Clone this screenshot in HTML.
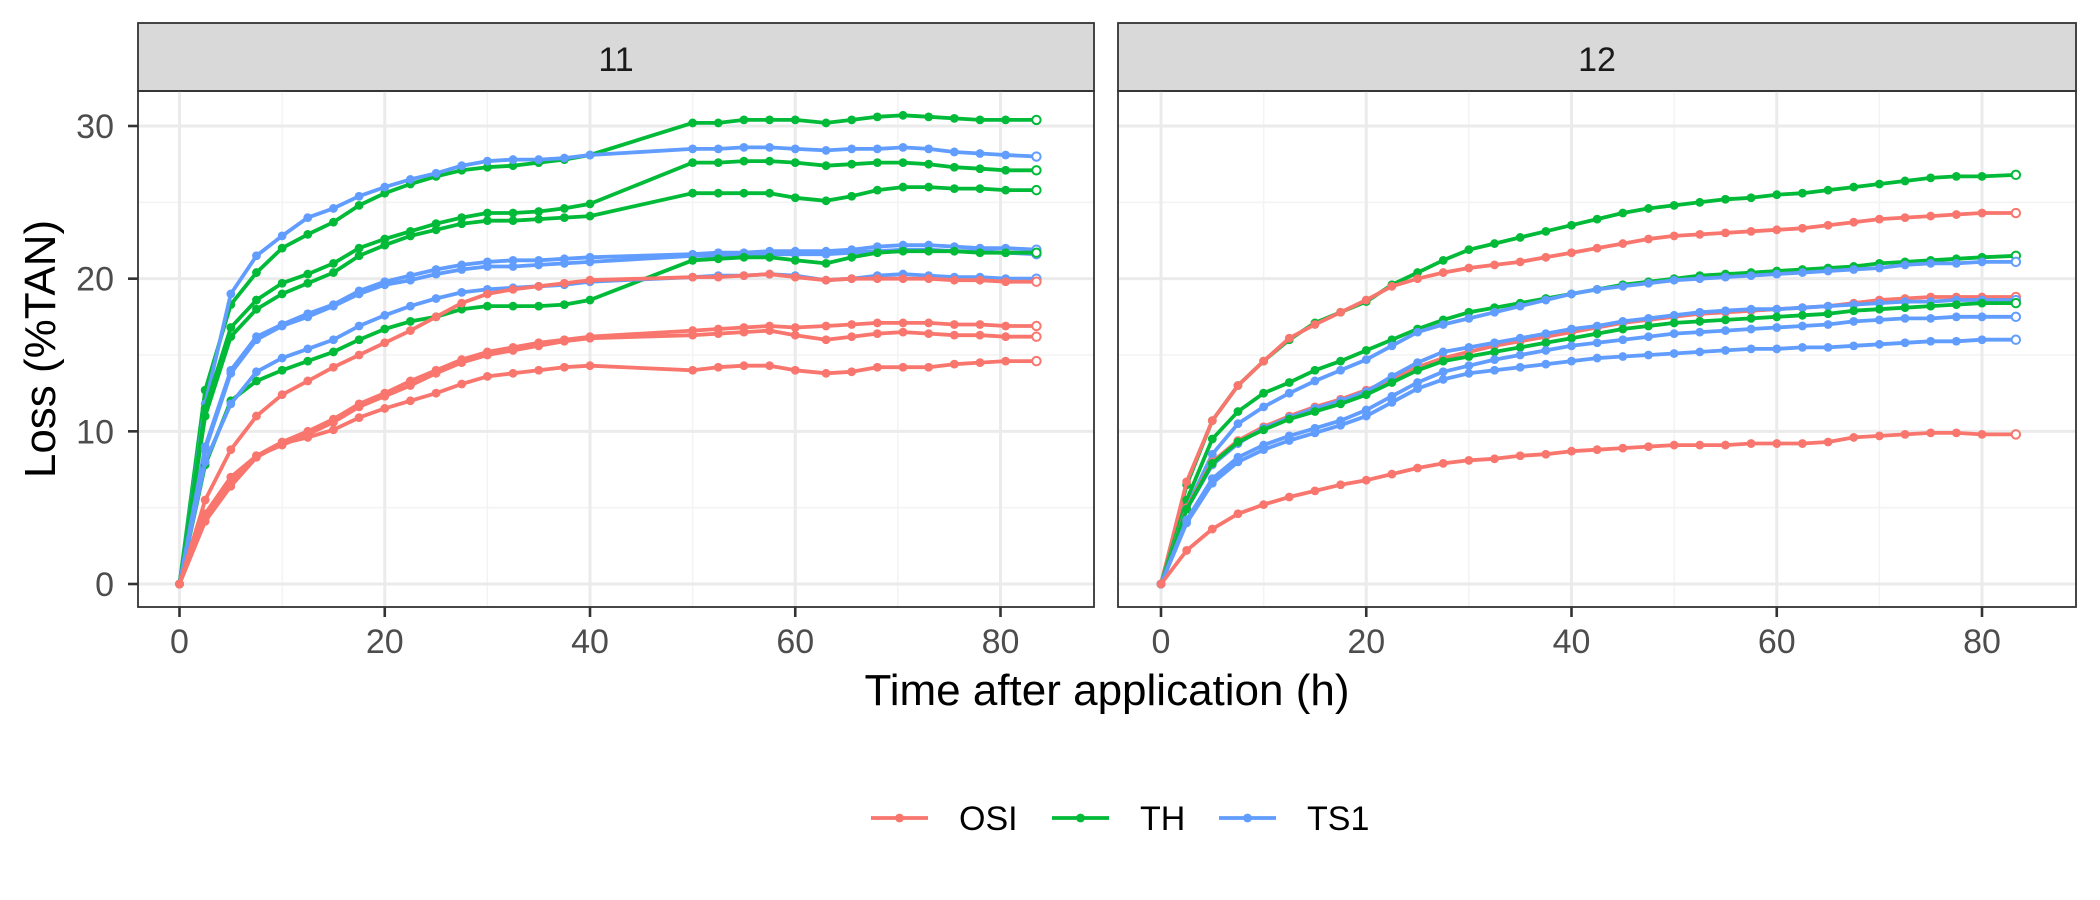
<!DOCTYPE html>
<html><head><meta charset="utf-8"><style>
body{margin:0;background:#fff;}
svg{display:block;font-family:"Liberation Sans",sans-serif;}
</style></head><body>
<svg id="chart" width="2100" height="900" viewBox="0 0 2100 900" xmlns="http://www.w3.org/2000/svg"></svg>
<script>
const panels = ["11","12"];
const times11 = [0,2.5,5,7.5,10,12.5,15,17.5,20,22.5,25,27.5,30,32.5,35,37.5,40,50,52.5,55,57.5,60,63,65.5,68,70.5,73,75.5,78,80.5,83.5];
const times12 = [0,2.5,5,7.5,10,12.5,15,17.5,20,22.5,25,27.5,30,32.5,35,37.5,40,42.5,45,47.5,50,52.5,55,57.5,60,62.5,65,67.5,70,72.5,75,77.5,80,83.3];
const xTicks = [0,20,40,60,80];
const yTicks = [0,10,20,30];
const treatments = ["OSI","TH","TS1"];
const colors = {OSI:"#F8766D",TH:"#00BA38",TS1:"#619CFF"};
const p11 = [
 ["TH",[0,12.7,18.3,20.4,22.0,22.9,23.7,24.8,25.6,26.2,26.7,27.1,27.3,27.4,27.6,27.8,28.1,30.2,30.2,30.4,30.4,30.4,30.2,30.4,30.6,30.7,30.6,30.5,30.4,30.4,30.4]],
 ["TS1",[0,11.8,19.0,21.5,22.8,24.0,24.6,25.4,26.0,26.5,26.9,27.4,27.7,27.8,27.8,27.9,28.1,28.5,28.5,28.6,28.6,28.5,28.4,28.5,28.5,28.6,28.5,28.3,28.2,28.1,28.0]],
 ["TH",[0,11.5,16.8,18.6,19.7,20.3,21.0,22.0,22.6,23.1,23.6,24.0,24.3,24.3,24.4,24.6,24.9,27.6,27.6,27.7,27.7,27.6,27.4,27.5,27.6,27.6,27.5,27.3,27.2,27.1,27.1]],
 ["TH",[0,11.0,16.2,18.0,19.0,19.7,20.4,21.5,22.2,22.8,23.2,23.6,23.8,23.8,23.9,24.0,24.1,25.6,25.6,25.6,25.6,25.3,25.1,25.4,25.8,26.0,26.0,25.9,25.9,25.8,25.8]],
 ["TS1",[0,9.0,14.0,16.2,17.0,17.7,18.3,19.2,19.8,20.2,20.6,20.9,21.1,21.2,21.2,21.3,21.4,21.6,21.7,21.7,21.8,21.8,21.8,21.9,22.1,22.2,22.2,22.1,22.0,22.0,21.9]],
 ["TS1",[0,8.8,13.8,16.0,16.9,17.5,18.2,19.0,19.6,19.9,20.3,20.6,20.8,20.8,20.9,21.0,21.1,21.5,21.5,21.5,21.6,21.6,21.6,21.7,21.8,21.9,21.9,21.8,21.8,21.7,21.6]],
 ["TH",[0,7.8,12.0,13.3,14.0,14.6,15.2,16.0,16.7,17.2,17.5,18.0,18.2,18.2,18.2,18.3,18.6,21.2,21.3,21.4,21.4,21.2,21.0,21.4,21.7,21.8,21.8,21.8,21.7,21.7,21.7]],
 ["TS1",[0,8.0,11.8,13.9,14.8,15.4,16.0,16.9,17.6,18.2,18.7,19.1,19.3,19.4,19.5,19.6,19.8,20.1,20.2,20.2,20.3,20.2,19.9,20.0,20.2,20.3,20.2,20.1,20.1,20.0,20.0]],
 ["OSI",[0,5.5,8.8,11.0,12.4,13.3,14.2,15.0,15.8,16.6,17.5,18.4,19.0,19.3,19.5,19.7,19.9,20.1,20.1,20.2,20.3,20.1,19.9,20.0,20.0,20.0,20.0,19.9,19.9,19.8,19.8]],
 ["OSI",[0,4.6,7.0,8.4,9.3,10.0,10.8,11.8,12.5,13.3,14.0,14.7,15.2,15.5,15.8,16.0,16.2,16.6,16.7,16.8,16.9,16.8,16.9,17.0,17.1,17.1,17.1,17.0,17.0,16.9,16.9]],
 ["OSI",[0,4.3,6.6,8.4,9.1,9.8,10.6,11.6,12.3,13.0,13.8,14.5,15.0,15.3,15.6,15.9,16.1,16.3,16.4,16.5,16.6,16.3,16.0,16.2,16.4,16.5,16.4,16.3,16.3,16.2,16.2]],
 ["OSI",[0,4.1,6.4,8.3,9.2,9.6,10.1,10.9,11.5,12.0,12.5,13.1,13.6,13.8,14.0,14.2,14.3,14.0,14.2,14.3,14.3,14.0,13.8,13.9,14.2,14.2,14.2,14.4,14.5,14.6,14.6]]
];
const p12 = [
 ["TH",[0,6.5,10.7,13.0,14.6,16.0,17.1,17.8,18.5,19.6,20.4,21.2,21.9,22.3,22.7,23.1,23.5,23.9,24.3,24.6,24.8,25.0,25.2,25.3,25.5,25.6,25.8,26.0,26.2,26.4,26.6,26.7,26.7,26.8]],
 ["OSI",[0,6.7,10.7,13.0,14.6,16.1,17.0,17.8,18.6,19.5,20.0,20.4,20.7,20.9,21.1,21.4,21.7,22.0,22.3,22.6,22.8,22.9,23.0,23.1,23.2,23.3,23.5,23.7,23.9,24.0,24.1,24.2,24.3,24.3]],
 ["TH",[0,5.5,9.5,11.3,12.5,13.2,14.0,14.6,15.3,16.0,16.7,17.3,17.8,18.1,18.4,18.7,19.0,19.3,19.6,19.8,20.0,20.2,20.3,20.4,20.5,20.6,20.7,20.8,21.0,21.1,21.2,21.3,21.4,21.5]],
 ["TS1",[0,5.0,8.5,10.5,11.6,12.5,13.3,14.0,14.7,15.6,16.5,17.0,17.4,17.8,18.2,18.6,19.0,19.3,19.5,19.7,19.9,20.0,20.1,20.2,20.3,20.4,20.5,20.6,20.7,20.9,21.0,21.0,21.1,21.1]],
 ["OSI",[0,5.0,8.0,9.4,10.3,11.0,11.6,12.1,12.7,13.4,14.2,14.8,15.2,15.6,15.9,16.2,16.5,16.8,17.1,17.3,17.5,17.7,17.8,17.9,18.0,18.1,18.2,18.4,18.6,18.7,18.8,18.8,18.8,18.8]],
 ["TS1",[0,4.9,7.8,9.2,10.2,10.9,11.5,12.0,12.6,13.6,14.5,15.2,15.5,15.8,16.1,16.4,16.7,16.9,17.2,17.4,17.6,17.8,17.9,18.0,18.0,18.1,18.2,18.3,18.4,18.5,18.5,18.6,18.6,18.6]],
 ["TH",[0,4.9,7.9,9.3,10.1,10.8,11.3,11.8,12.4,13.2,14.0,14.6,14.9,15.2,15.5,15.8,16.1,16.4,16.7,16.9,17.1,17.2,17.3,17.4,17.5,17.6,17.7,17.9,18.0,18.1,18.2,18.3,18.4,18.4]],
 ["TS1",[0,4.2,6.9,8.3,9.1,9.7,10.2,10.7,11.4,12.3,13.2,13.9,14.3,14.7,15.0,15.3,15.6,15.8,16.0,16.2,16.4,16.5,16.6,16.7,16.8,16.9,17.0,17.2,17.3,17.4,17.4,17.5,17.5,17.5]],
 ["TS1",[0,4.0,6.6,8.0,8.8,9.4,9.9,10.4,11.0,11.9,12.8,13.4,13.8,14.0,14.2,14.4,14.6,14.8,14.9,15.0,15.1,15.2,15.3,15.4,15.4,15.5,15.5,15.6,15.7,15.8,15.9,15.9,16.0,16.0]],
 ["OSI",[0,2.2,3.6,4.6,5.2,5.7,6.1,6.5,6.8,7.2,7.6,7.9,8.1,8.2,8.4,8.5,8.7,8.8,8.9,9.0,9.1,9.1,9.1,9.2,9.2,9.2,9.3,9.6,9.7,9.8,9.9,9.9,9.8,9.8]]
];

const NS="http://www.w3.org/2000/svg";
const svg=document.getElementById("chart");
function mk(tag,attrs,parent){const e=document.createElementNS(NS,tag);for(const k in attrs)e.setAttribute(k,attrs[k]);(parent||svg).appendChild(e);return e;}
const panelX=[[138,1094],[1118,2076]];
const pTop=91,pBottom=607,stripTop=23;
function yScale(v){return 584+(126-584)*v/30;}
function xScaleFor(i){const x0=i===0?179.5:1161, x80=i===0?1000.5:1982;return v=>x0+(x80-x0)*v/80;}
const datasets=[[times11,p11],[times12,p12]];

panels.forEach((lab,i)=>{
  const L=panelX[i][0], R=panelX[i][1]; const xs=xScaleFor(i);
  const g=mk("g",{});
  
  
  const strip=mk("rect",{x:L,y:stripTop,width:R-L,height:pTop-stripTop,fill:"#D9D9D9",stroke:"#333","stroke-width":1.8},g);
  
  
  const st=mk("text",{x:(L+R)/2,y:71,"text-anchor":"middle","font-size":34,fill:"#1A1A1A"},g);
  st.textContent=lab;
  
  
  [5,15,25].forEach(v=>mk("line",{x1:L,x2:R,y1:yScale(v),y2:yScale(v),stroke:"#F3F3F3","stroke-width":1.5},g));
  [10,30,50,70].forEach(v=>mk("line",{x1:xs(v),x2:xs(v),y1:pTop,y2:pBottom,stroke:"#F3F3F3","stroke-width":1.5},g));
  yTicks.forEach(v=>mk("line",{x1:L,x2:R,y1:yScale(v),y2:yScale(v),stroke:"#EBEBEB","stroke-width":3},g));
  xTicks.forEach(v=>mk("line",{x1:xs(v),x2:xs(v),y1:pTop,y2:pBottom,stroke:"#EBEBEB","stroke-width":3},g));
  const times=datasets[i][0], series=datasets[i][1];
  series.forEach((s,si)=>{
    const col=colors[s[0]];
    const pts=s[1].map((v,k)=>xs(times[k]).toFixed(1)+","+yScale(v).toFixed(1)).join(" ");
    const pl=mk("polyline",{points:pts,fill:"none",stroke:col,"stroke-width":3.8,"stroke-linejoin":"round"},g);
    
    
    s[1].forEach((v,k)=>{
      const last=k===s[1].length-1;
      const c=mk("circle",{cx:xs(times[k]),cy:yScale(v),r:last?4.2:4.4,fill:last?"#fff":col,stroke:col,"stroke-width":last?2:0},g);
      
      
    });
  });
  mk("rect",{x:L,y:pTop,width:R-L,height:pBottom-pTop,fill:"none",stroke:"#333","stroke-width":1.8},g);
  xTicks.forEach(v=>{
    mk("line",{x1:xs(v),x2:xs(v),y1:pBottom,y2:pBottom+10,stroke:"#333","stroke-width":2.6},g);
    const t=mk("text",{x:xs(v),y:653,"text-anchor":"middle","font-size":34,fill:"#4D4D4D"},g);
    t.textContent=v;
    
    
  });
  if(i===0){
    yTicks.forEach(v=>{
      mk("line",{x1:L-10,x2:L,y1:yScale(v),y2:yScale(v),stroke:"#333","stroke-width":2.6},g);
      const t=mk("text",{x:114,y:yScale(v)+12,"text-anchor":"end","font-size":34,fill:"#4D4D4D"},g);
      t.textContent=v;
      
      
    });
  }
});
const xt=mk("text",{x:1107,y:705,"text-anchor":"middle","font-size":44,fill:"#000"});
xt.textContent="Time after application (h)";


const yt=mk("text",{x:0,y:0,"text-anchor":"middle","font-size":44,fill:"#000",transform:"translate(55,349) rotate(-90)"});
yt.textContent="Loss (%TAN)";


const legX=[871,1052,1219];
treatments.forEach((tr,i)=>{
  const g=mk("g",{});
  
  
  const x=legX[i], y=818;
  mk("line",{x1:x,x2:x+57,y1:y,y2:y,stroke:colors[tr],"stroke-width":3.8},g);
  mk("circle",{cx:x+28.5,cy:y,r:4.4,fill:colors[tr]},g);
  const t=mk("text",{x:x+88,y:830,"font-size":34,fill:"#000"},g);
  t.textContent=tr;
});
</script>
</body></html>
